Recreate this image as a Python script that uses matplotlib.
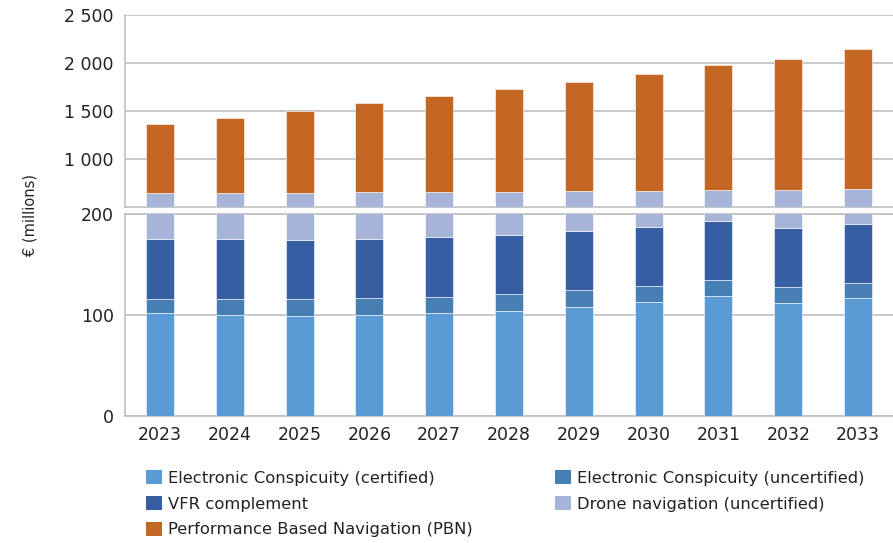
import matplotlib
matplotlib.use("Agg")
import matplotlib.pyplot as plt
import numpy as np
from matplotlib.patches import Patch
from matplotlib.ticker import FuncFormatter

plt.rcParams['font.family'] = ['DejaVu Sans']

years = ["2023", "2024", "2025", "2026", "2027", "2028", "2029", "2030", "2031", "2032", "2033"]
ec_certified = [102, 100, 99, 100, 102, 104, 108, 113, 119, 112, 117]
ec_uncertified = [14, 16, 17, 17, 16, 17, 17, 16, 16, 16, 15]
vfr_complement = [59, 59, 58, 58, 59, 58, 58, 58, 58, 58, 58]
drone_navigation = [469, 469, 473, 477, 477, 481, 482, 478, 484, 488, 494]
pbn = [716, 785, 858, 929, 999, 1070, 1141, 1224, 1302, 1367, 1457]

series = [
    ("Electronic Conspicuity (certified)", ec_certified, "#5B9BD5"),
    ("Electronic Conspicuity (uncertified)", ec_uncertified, "#467FB3"),
    ("VFR complement", vfr_complement, "#375DA3"),
    ("Drone navigation (uncertified)", drone_navigation, "#A7B4DA"),
    ("Performance Based Navigation (PBN)", pbn, "#C46624"),
]

W, H = 893, 543
fig = plt.figure(figsize=(W / 100, H / 100), dpi=100)

def ax_rect(x0, y0, x1, y1):
    return [x0 / W, 1 - y1 / H, (x1 - x0) / W, (y1 - y0) / H]

ax_top = fig.add_axes(ax_rect(125, 15, 893, 207))
ax_bot = fig.add_axes(ax_rect(125, 214, 893, 416))

x = np.arange(len(years))
grid_c = "#BFBFBF"
txt_c = "#222222"

for ax in (ax_top, ax_bot):
    bottom = np.zeros(len(years))
    for name, vals, col in series:
        v = np.array(vals, dtype=float)
        ax.bar(x, v, width=0.4, bottom=bottom, color=col, edgecolor="white",
               linewidth=0.4, zorder=3)
        bottom += v
    ax.set_xlim(-0.5, len(years) - 0.5)
    ax.spines["right"].set_visible(False)
    for s in ("left", "top", "bottom"):
        ax.spines[s].set_color(grid_c)
        ax.spines[s].set_linewidth(1.2)
    ax.tick_params(axis="both", length=0, labelsize=12.5, colors=txt_c, pad=8)
    ax.yaxis.grid(True, color=grid_c, linewidth=1.2, zorder=0)
    ax.set_axisbelow(True)

fmt = FuncFormatter(lambda v, p: f"{int(v):,}".replace(",", " "))

ax_top.set_ylim(500, 2500)
ax_top.set_yticks([1000, 1500, 2000, 2500])
ax_top.yaxis.set_major_formatter(fmt)
ax_top.set_xticks([])
ax_top.spines["top"].set_visible(False)

ax_bot.set_ylim(0, 200)
ax_bot.set_yticks([0, 100, 200])
ax_bot.yaxis.set_major_formatter(fmt)
ax_bot.set_xticks(x)
ax_bot.set_xticklabels(years)
ax_bot.tick_params(axis="x", pad=7)

fig.text(30 / W, 1 - 215 / H, "€ (millions)", rotation=90, ha="center", va="center",
         fontsize=10.5, color=txt_c)

handles = [Patch(facecolor=c, edgecolor="none") for _, _, c in series]
labels = [n for n, _, _ in series]
leg_kw = dict(loc="upper left", frameon=False, fontsize=11.8, borderpad=0,
              borderaxespad=0, handlelength=0.95, handleheight=0.95,
              handletextpad=0.4, labelspacing=0.62, labelcolor=txt_c)
leg1 = fig.legend([handles[i] for i in (0, 2, 4)], [labels[i] for i in (0, 2, 4)],
                  bbox_to_anchor=(146 / W, 1 - 470 / H), **leg_kw)
leg2 = fig.legend([handles[i] for i in (1, 3)], [labels[i] for i in (1, 3)],
                  bbox_to_anchor=(555 / W, 1 - 470 / H), **leg_kw)

fig.savefig("out.png", dpi=100)
